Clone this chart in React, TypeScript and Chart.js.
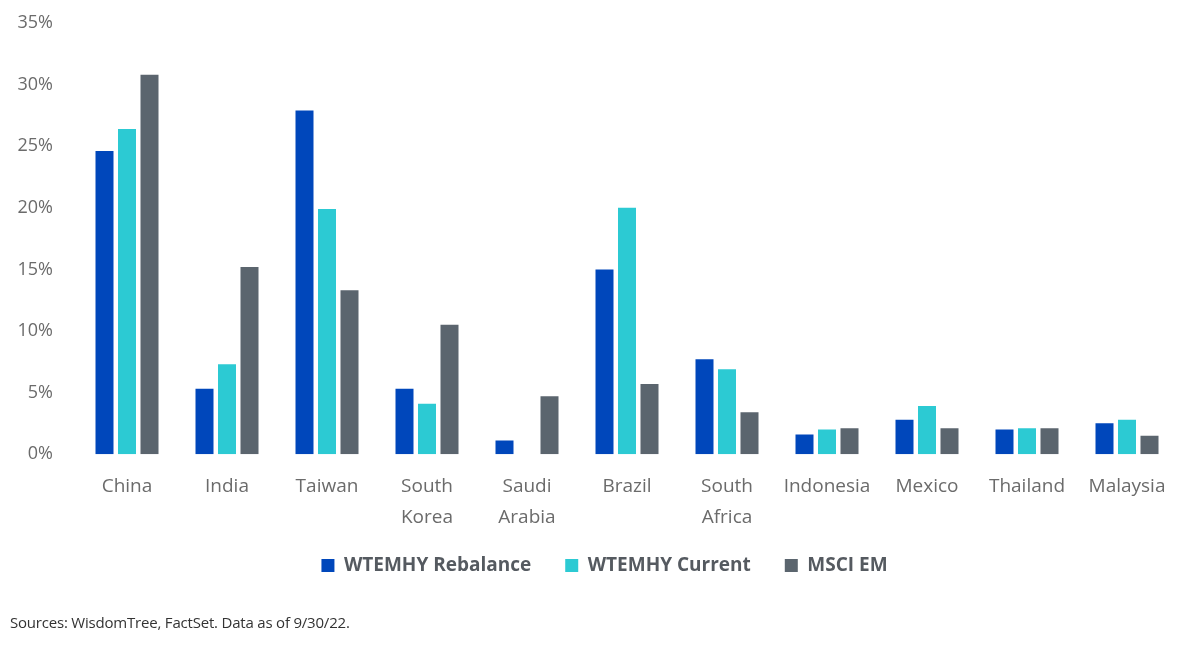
import React, { useEffect, useRef } from 'react';
import { Chart, registerables } from 'chart.js';

Chart.register(...registerables);

const categories: string[][] = [
  ['China'], ['India'], ['Taiwan'], ['South', 'Korea'], ['Saudi', 'Arabia'],
  ['Brazil'], ['South', 'Africa'], ['Indonesia'], ['Mexico'], ['Thailand'], ['Malaysia'],
];
const rebalanceValues = [24.6, 5.3, 27.9, 5.3, 1.1, 15.0, 7.7, 1.6, 2.8, 2.0, 2.5];
const currentValues = [26.4, 7.3, 19.9, 4.1, 0, 20.0, 6.9, 2.0, 3.9, 2.1, 2.8];
const msciValues = [30.8, 15.2, 13.3, 10.5, 4.7, 5.7, 3.4, 2.1, 2.1, 2.1, 1.5];
const seriesNames = ['WTEMHY Rebalance', 'WTEMHY Current', 'MSCI EM'];
const seriesColors = ['#0047BB', '#2CCAD3', '#5B656E'];
const yMax = 35;
const yStep = 5;
const sourceText = 'Sources: WisdomTree, FactSet. Data as of 9/30/22.';

const legendShift = {
  id: 'legendShift',
  afterLayout(chart: any) {
    const l = chart.legend;
    if (l) {
      l.left += 16;
      l.right += 16;
      l.top -= 8;
      l.bottom -= 8;
    }
  },
};

export default function App() {
  const canvasRef = useRef<HTMLCanvasElement | null>(null);

  useEffect(() => {
    document.body.style.margin = '0';
    const canvas = canvasRef.current;
    if (!canvas) return;
    const chart = new Chart(canvas, {
      type: 'bar',
      data: {
        labels: categories,
        datasets: [rebalanceValues, currentValues, msciValues].map((d, i) => ({
          label: seriesNames[i],
          data: d,
          backgroundColor: seriesColors[i],
          borderWidth: 0,
          categoryPercentage: 0.675,
          barPercentage: 0.8,
        })),
      },
      plugins: [legendShift],
      options: {
        animation: false,
        responsive: false,
        devicePixelRatio: 1,
        layout: { padding: { top: 23, left: 0, right: 23, bottom: 54 } },
        scales: {
          x: {
            grid: { display: false, drawTicks: false },
            border: { display: false },
            ticks: {
              color: '#6b6b6b',
              padding: 16,
              maxRotation: 0,
              autoSkip: false,
              font: { family: '"Open Sans", sans-serif', size: 19, lineHeight: 1.68 },
            },
            afterFit: (scale: any) => { scale.height -= 20; },
          },
          y: {
            min: 0,
            max: yMax,
            grid: { display: false, drawTicks: false },
            border: { display: false },
            ticks: {
              stepSize: yStep,
              color: '#6b6b6b',
              padding: 24,
              font: { family: '"Open Sans", sans-serif', size: 18 },
              callback: (v: any) => `${v}%`,
            },
            afterFit: (scale: any) => { scale.width = 77; scale.paddingTop = 0; },
          },
        },
        plugins: {
          tooltip: { enabled: false },
          legend: {
            position: 'bottom',
            labels: {
              boxWidth: 13,
              boxHeight: 13,
              padding: 34,
              color: '#555a60',
              font: { family: '"Open Sans", sans-serif', size: 19, weight: 'bold' },
            },
          },
        },
      },
    } as any);
    return () => chart.destroy();
  }, []);

  return (
    <div style={{ position: 'relative', width: 1200, height: 647, overflow: 'hidden', background: '#fff' }}>
      <canvas ref={canvasRef} width={1200} height={647} style={{ position: 'absolute', left: 0, top: 0 }} />
      <div
        style={{
          position: 'absolute',
          left: 10,
          top: 612,
          fontFamily: '"Open Sans", sans-serif',
          fontSize: 15,
          color: '#333',
          letterSpacing: '-0.2px',
          whiteSpace: 'nowrap',
        }}
      >
        {sourceText}
      </div>
    </div>
  );
}
